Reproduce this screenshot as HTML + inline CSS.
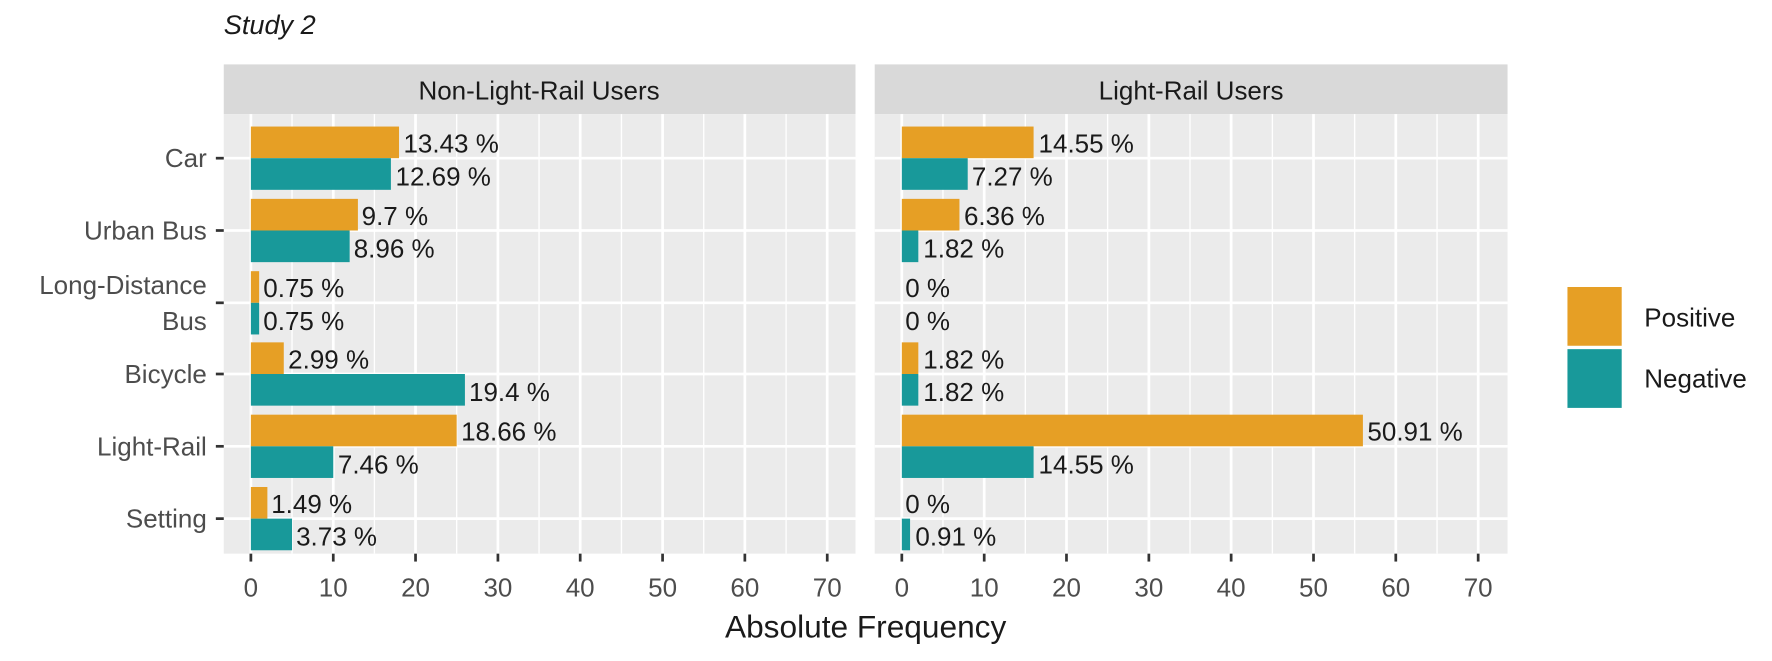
<!DOCTYPE html>
<html><head><style>body{margin:0;background:#fff}svg{display:block}</style></head><body>
<svg width="1772" height="661" viewBox="0 0 1568 585" preserveAspectRatio="none" xmlns="http://www.w3.org/2000/svg" font-family="Liberation Sans, Arial, sans-serif">
<rect width="1568" height="585" fill="#fff"/>
<text x="198" y="30" font-size="24" font-style="italic" fill="#1a1a1a">Study 2</text>
<rect x="198" y="57" width="559" height="44" fill="#d9d9d9"/>
<text x="477" y="88" font-size="23" text-anchor="middle" fill="#1a1a1a">Non-Light-Rail Users</text>
<rect x="198" y="101" width="559" height="389" fill="#ebebeb"/>
<rect x="774" y="57" width="560" height="44" fill="#d9d9d9"/>
<text x="1054" y="88" font-size="23" text-anchor="middle" fill="#1a1a1a">Light-Rail Users</text>
<rect x="774" y="101" width="560" height="389" fill="#ebebeb"/>
<g stroke="#fff">
<g stroke-width="1.2">
<line x1="258.4" y1="101" x2="258.4" y2="490"/><line x1="331.3" y1="101" x2="331.3" y2="490"/><line x1="404.1" y1="101" x2="404.1" y2="490"/><line x1="477" y1="101" x2="477" y2="490"/><line x1="549.9" y1="101" x2="549.9" y2="490"/><line x1="622.7" y1="101" x2="622.7" y2="490"/><line x1="695.6" y1="101" x2="695.6" y2="490"/>
<line x1="834.4" y1="101" x2="834.4" y2="490"/><line x1="907.3" y1="101" x2="907.3" y2="490"/><line x1="980.1" y1="101" x2="980.1" y2="490"/><line x1="1053" y1="101" x2="1053" y2="490"/><line x1="1125.9" y1="101" x2="1125.9" y2="490"/><line x1="1198.7" y1="101" x2="1198.7" y2="490"/><line x1="1271.6" y1="101" x2="1271.6" y2="490"/>
</g>
<g stroke-width="2.4">
<line x1="222" y1="101" x2="222" y2="490"/><line x1="294.9" y1="101" x2="294.9" y2="490"/><line x1="367.7" y1="101" x2="367.7" y2="490"/><line x1="440.6" y1="101" x2="440.6" y2="490"/><line x1="513.4" y1="101" x2="513.4" y2="490"/><line x1="586.3" y1="101" x2="586.3" y2="490"/><line x1="659.1" y1="101" x2="659.1" y2="490"/><line x1="732" y1="101" x2="732" y2="490"/>
<line x1="798" y1="101" x2="798" y2="490"/><line x1="870.9" y1="101" x2="870.9" y2="490"/><line x1="943.7" y1="101" x2="943.7" y2="490"/><line x1="1016.6" y1="101" x2="1016.6" y2="490"/><line x1="1089.4" y1="101" x2="1089.4" y2="490"/><line x1="1162.3" y1="101" x2="1162.3" y2="490"/><line x1="1235.1" y1="101" x2="1235.1" y2="490"/><line x1="1308" y1="101" x2="1308" y2="490"/>
<line x1="198" y1="140" x2="757" y2="140"/><line x1="198" y1="204" x2="757" y2="204"/><line x1="198" y1="268" x2="757" y2="268"/><line x1="198" y1="331" x2="757" y2="331"/><line x1="198" y1="395" x2="757" y2="395"/><line x1="198" y1="459" x2="757" y2="459"/>
<line x1="774" y1="140" x2="1334" y2="140"/><line x1="774" y1="204" x2="1334" y2="204"/><line x1="774" y1="268" x2="1334" y2="268"/><line x1="774" y1="331" x2="1334" y2="331"/><line x1="774" y1="395" x2="1334" y2="395"/><line x1="774" y1="459" x2="1334" y2="459"/>
</g></g>
<g fill="#e69f25">
<rect x="222" y="112" width="131.1" height="28"/><rect x="222" y="176" width="94.7" height="28"/><rect x="222" y="240" width="7.3" height="28"/><rect x="222" y="303" width="29.1" height="28"/><rect x="222" y="367" width="182.1" height="28"/><rect x="222" y="431" width="14.6" height="28"/>
<rect x="798" y="112" width="116.6" height="28"/><rect x="798" y="176" width="51" height="28"/><rect x="798" y="303" width="14.6" height="28"/><rect x="798" y="367" width="408" height="28"/>
</g>
<g fill="#18999a">
<rect x="222" y="140" width="123.9" height="28"/><rect x="222" y="204" width="87.4" height="28"/><rect x="222" y="268" width="7.3" height="28"/><rect x="222" y="331" width="189.4" height="28"/><rect x="222" y="395" width="72.9" height="28"/><rect x="222" y="459" width="36.4" height="28"/>
<rect x="798" y="140" width="58.3" height="28"/><rect x="798" y="204" width="14.6" height="28"/><rect x="798" y="331" width="14.6" height="28"/><rect x="798" y="395" width="116.6" height="28"/><rect x="798" y="459" width="7.3" height="28"/>
</g>
<g font-size="23" fill="#1a1a1a">
<text x="357" y="135">13.43 %</text><text x="350" y="164">12.69 %</text>
<text x="320" y="199">9.7 %</text><text x="313" y="228">8.96 %</text>
<text x="233" y="263">0.75 %</text><text x="233" y="292">0.75 %</text>
<text x="255" y="326">2.99 %</text><text x="415" y="355">19.4 %</text>
<text x="408" y="390">18.66 %</text><text x="299" y="419">7.46 %</text>
<text x="240" y="454">1.49 %</text><text x="262" y="483">3.73 %</text>
<text x="919" y="135">14.55 %</text><text x="860" y="164">7.27 %</text>
<text x="853" y="199">6.36 %</text><text x="817" y="228">1.82 %</text>
<text x="801" y="263">0 %</text><text x="801" y="292">0 %</text>
<text x="817" y="326">1.82 %</text><text x="817" y="355">1.82 %</text>
<text x="1210" y="390">50.91 %</text><text x="919" y="419">14.55 %</text>
<text x="801" y="454">0 %</text><text x="810" y="483">0.91 %</text>
</g>
<g stroke="#333" stroke-width="2.4">
<line x1="191" y1="140" x2="198" y2="140"/><line x1="191" y1="204" x2="198" y2="204"/><line x1="191" y1="268" x2="198" y2="268"/><line x1="191" y1="331" x2="198" y2="331"/><line x1="191" y1="395" x2="198" y2="395"/><line x1="191" y1="459" x2="198" y2="459"/>
</g>
<g font-size="23" fill="#4d4d4d" text-anchor="end">
<text x="183" y="148">Car</text><text x="183" y="212">Urban Bus</text><text x="183" y="260">Long-Distance</text><text x="183" y="292">Bus</text><text x="183" y="339">Bicycle</text><text x="183" y="403">Light-Rail</text><text x="183" y="467">Setting</text>
</g>
<g stroke="#333" stroke-width="2.4">
<line x1="222" y1="490" x2="222" y2="497"/><line x1="294.9" y1="490" x2="294.9" y2="497"/><line x1="367.7" y1="490" x2="367.7" y2="497"/><line x1="440.6" y1="490" x2="440.6" y2="497"/><line x1="513.4" y1="490" x2="513.4" y2="497"/><line x1="586.3" y1="490" x2="586.3" y2="497"/><line x1="659.1" y1="490" x2="659.1" y2="497"/><line x1="732" y1="490" x2="732" y2="497"/>
<line x1="798" y1="490" x2="798" y2="497"/><line x1="870.9" y1="490" x2="870.9" y2="497"/><line x1="943.7" y1="490" x2="943.7" y2="497"/><line x1="1016.6" y1="490" x2="1016.6" y2="497"/><line x1="1089.4" y1="490" x2="1089.4" y2="497"/><line x1="1162.3" y1="490" x2="1162.3" y2="497"/><line x1="1235.1" y1="490" x2="1235.1" y2="497"/><line x1="1308" y1="490" x2="1308" y2="497"/>
</g>
<g font-size="23" fill="#4d4d4d" text-anchor="middle">
<text x="222" y="528">0</text><text x="294.9" y="528">10</text><text x="367.7" y="528">20</text><text x="440.6" y="528">30</text><text x="513.4" y="528">40</text><text x="586.3" y="528">50</text><text x="659.1" y="528">60</text><text x="732" y="528">70</text>
<text x="798" y="528">0</text><text x="870.9" y="528">10</text><text x="943.7" y="528">20</text><text x="1016.6" y="528">30</text><text x="1089.4" y="528">40</text><text x="1162.3" y="528">50</text><text x="1235.1" y="528">60</text><text x="1308" y="528">70</text>
</g>
<text x="766" y="564" font-size="28" text-anchor="middle" fill="#1a1a1a">Absolute Frequency</text>
<rect x="1387" y="254" width="48" height="52" fill="#e69f25"/>
<rect x="1387" y="309" width="48" height="52" fill="#18999a"/>
<text x="1455" y="289" font-size="23" fill="#1a1a1a">Positive</text>
<text x="1455" y="343" font-size="23" fill="#1a1a1a">Negative</text>
</svg>
</body></html>
